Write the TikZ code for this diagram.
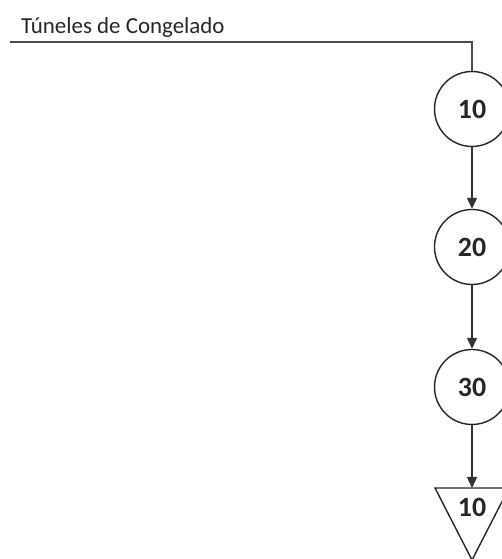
\documentclass[tikz,border=0pt]{standalone}
\usepackage{fontspec}
\setmainfont{Carlito}
\usepackage{tikz}
\usetikzlibrary{positioning, arrows.meta, calc}

\tikzset{
	opnode/.style={circle, draw=black!85, line width=1.4bp, minimum size=75bp, inner sep=0pt, font=\fontsize{28}{30}\selectfont\bfseries, text=black!85},
	flowline/.style={draw=black!80, line width=1.4bp, -{Triangle[width=10bp,length=11bp]}},
}

\begin{document}
\begin{tikzpicture}[x=1bp, y=1bp]
	\useasboundingbox (0,0) rectangle (502,559);
	\def\rad{37}
	\def\tri{72}

	% feed line from the tunnels
	\coordinate (feed start) at (10,517);
	\coordinate (feed bend) at (472,517);
	\node[anchor=base west, inner sep=0pt, font=\fontsize{23}{26}\selectfont, text=black!85] (feed label) at (21,525) {Túneles de Congelado};

	% operations
	\node[opnode] (op10) at (472,450) {10};
	\node[opnode] (op20) at (472,312) {20};
	\node[opnode] (op30) at (472,172) {30};

	% storage
	\coordinate (store top) at (472,71);
	\draw [draw=black!85, line width=1.4bp] ($ (store top) + (-\rad,0) $) -- ($ (store top) + (\rad,0) $) -- ($ (store top) + (0,-\tri) $) -- cycle;
	\node[inner sep=0pt, font=\fontsize{28}{30}\selectfont\bfseries, text=black!85] (store10) at (472,52) {10};

	\draw [draw=black!70, line width=1.8bp] (feed start) -- (feed bend) -- (op10.north);
	\draw [flowline] (op10) -- (op20);
	\draw [flowline] (op20) -- (op30);
	\draw [flowline] (op30) -- (store top);
\end{tikzpicture}
\end{document}
